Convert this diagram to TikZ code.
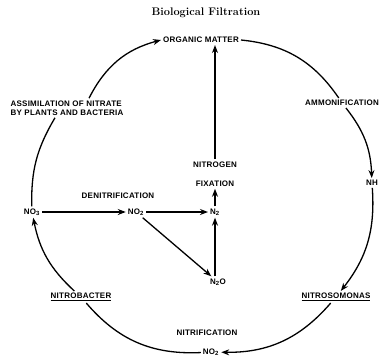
\documentclass[tikz,border=0pt]{standalone}
\usepackage{fontspec}
\newfontfamily\capsfont[LetterSpace=3]{Liberation Sans}
\usetikzlibrary{
  arrows.meta
}
\tikzset{
  lbl/.style = {font=\capsfont\bfseries\fontsize{8}{9.5}\selectfont, inner sep=2pt},
  cycle/.style = {line width=1.3pt},
  flow/.style = {line width=1.3pt, -{Stealth[length=8pt,width=6pt]}},
}

\begin{document}
\begin{tikzpicture}[x=1pt,y=1pt]
  \useasboundingbox (0,0) rectangle (382,360);

  \node[font=\bfseries\fontsize{11}{13}\selectfont] (title) at (206,347) {Biological Filtration};

  % outer cycle
  \node[lbl] (om) at (201,320) {ORGANIC MATTER};
  \node[lbl] (amm) at (342,257) {AMMONIFICATION};
  \node[lbl] (nh) at (372,177) {NH};
  \node[lbl] (nsm) at (336,63) {\underline{NITROSOMONAS}};
  \node[lbl] (nitrif) at (207,27) {NITRIFICATION};
  \node[lbl] (no2b) at (211,8) {NO\textsubscript{2}};
  \node[lbl] (nbc) at (81,63) {\underline{NITROBACTER}};
  \node[lbl] (no3) at (32,148) {NO\textsubscript{3}};
  \node[lbl, align=left] (assim) at (67,252) {ASSIMILATION OF NITRATE\\BY PLANTS AND BACTERIA};

  % inner part
  \node[lbl] (denit) at (118,164) {DENITRIFICATION};
  \node[lbl] (no2c) at (136,148) {NO\textsubscript{2}};
  \node[lbl] (n2) at (215,148) {N\textsubscript{2}};
  \node[lbl] (n2o) at (218,78) {N\textsubscript{2}O};
  \node[lbl, align=center] (fix) at (215,186) {NITROGEN\\[10pt]FIXATION};

  \draw[flow] ([xshift=22pt]assim.north) to[bend left=24] (om.west);
  \draw[cycle] (om.east) to[bend left=25] (amm);
  \draw[flow] (amm) to[bend left=18] (nh);
  \draw[flow] (nh) to[bend left=21] (nsm);
  \draw[flow] (nsm) to[bend left=25] (no2b);
  \draw[cycle] (no2b) to[bend left=26] (nbc);
  \draw[flow] (nbc) to[bend left=18] (no3);
  \draw[cycle] (no3) to[bend left=16] ([xshift=-12pt]assim.south);

  \draw[flow] (no3) -- (no2c);
  \draw[flow] (no2c) -- (n2);
  \draw[flow] (no2c) -- (n2o);
  \draw[flow] (n2o.north -| n2) -- (n2);
  \draw[flow] (n2) -- (fix);
  \draw[flow] (fix.north) -- (fix.north |- om.south);
\end{tikzpicture}
\end{document}
